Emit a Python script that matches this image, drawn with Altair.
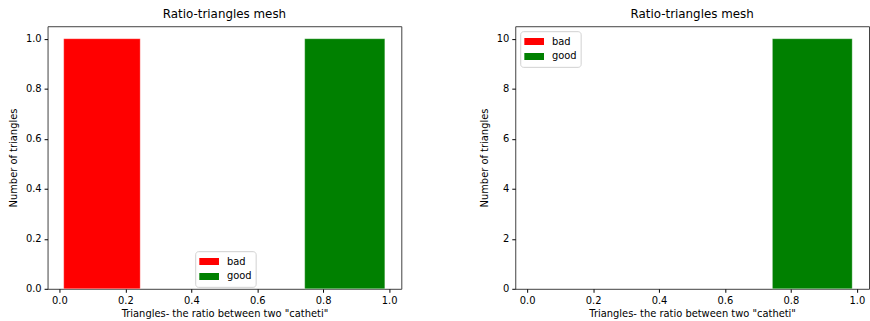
import altair as alt
import pandas as pd

# Bar extents (ratio bins) and counts for each mesh
categories = ["bad", "good"]
colors = ["red", "green"]

left_label = ["bad", "good"]
left_start = [0.013, 0.744]
left_end = [0.245, 0.987]
left_count = [1, 1]

right_label = ["good"]
right_start = [0.744]
right_end = [0.986]
right_count = [10]

x_ticks = [0.0, 0.2, 0.4, 0.6, 0.8, 1.0]
left_y_ticks = [0.0, 0.2, 0.4, 0.6, 0.8, 1.0]
right_y_ticks = [0, 2, 4, 6, 8, 10]

FONT = "DejaVu Sans"
W, H = 357, 265
X_DOMAIN = [-0.036, 1.037]

rect_shape = "M-1,-0.35H1V0.35H-1Z"


def panel(labels, starts, ends, counts, y_ticks, y_max, y_fmt, lx, ly):
    df = pd.DataFrame({"kind": labels, "x0": starts, "x1": ends, "n": counts})
    return (
        alt.Chart(df, title=alt.Title("Ratio-triangles mesh"))
        .mark_bar(stroke="white", strokeWidth=0.5, strokeOpacity=0.6)
        .encode(
            x=alt.X(
                "x0:Q",
                scale=alt.Scale(domain=X_DOMAIN, nice=False, zero=False),
                axis=alt.Axis(values=x_ticks, format=".1f",
                              title='Triangles- the ratio between two "catheti"'),
            ),
            x2="x1:Q",
            y=alt.Y(
                "n:Q",
                scale=alt.Scale(domain=[0, y_max], nice=False),
                axis=alt.Axis(values=y_ticks, format=y_fmt,
                              title="Number of triangles"),
            ),
            y2=alt.datum(0),
            color=alt.Color(
                "kind:N",
                scale=alt.Scale(domain=categories, range=colors),
                legend=alt.Legend(
                    title=None, orient="none", legendX=lx, legendY=ly,
                    symbolType=rect_shape, symbolSize=400, symbolStrokeWidth=0,
                    clipHeight=13, rowPadding=2, labelOffset=8,
                    labelFontSize=10, labelFont=FONT, labelColor="black",
                    fillColor="white", strokeColor="#d0d0d0", cornerRadius=3,
                    padding=4,
                ),
            ),
        )
        .properties(width=W, height=H)
    )


left = panel(left_label, left_start, left_end, left_count,
             left_y_ticks, 1.05, ".1f", 149, 227)
right = panel(right_label, right_start, right_end, right_count,
              right_y_ticks, 10.5, "d", 5, 5)

chart = (
    alt.hconcat(left, right, spacing=77)
    .resolve_scale(color="independent")
    .resolve_legend(color="independent")
    .properties(padding={"left": 8, "top": 6, "right": 0, "bottom": 0})
    .configure_view(stroke="#404040", strokeWidth=1)
    .configure_axis(
        grid=False,
        labelFont=FONT, titleFont=FONT,
        labelFontSize=10, titleFontSize=10,
        labelColor="black", titleColor="black",
        titleFontWeight="normal",
        domain=False, tickColor="black", tickSize=3.5, tickWidth=1,
        labelPadding=3,
    )
    .configure_axisY(titlePadding=7)
    .configure_axisX(titlePadding=3)
    .configure_title(font=FONT, fontSize=12, fontWeight="normal",
                     color="black", offset=5)
)

chart.save("out.html", embed_options={"renderer": "svg", "actions": False})
